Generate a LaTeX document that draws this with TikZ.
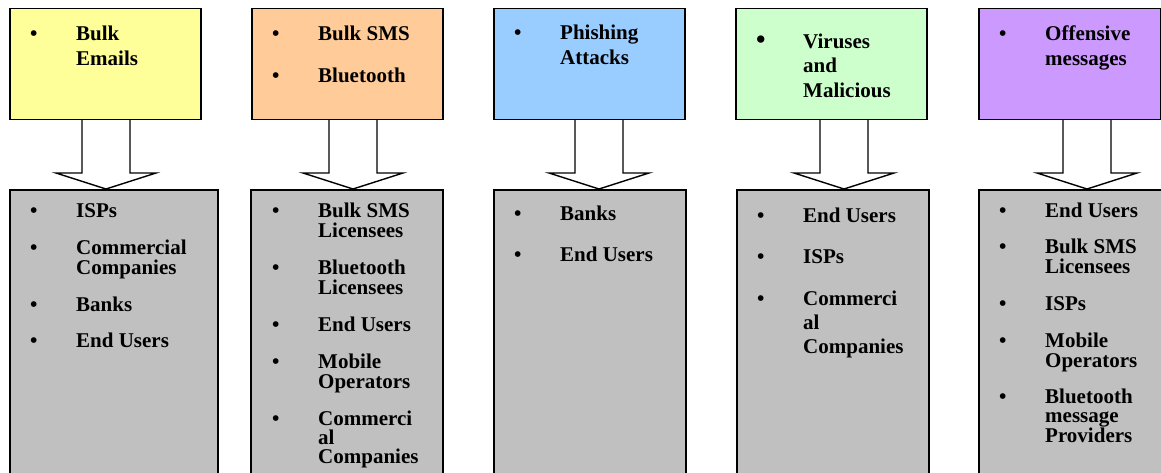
\documentclass[tikz,border=0pt]{standalone}
\usepackage{fontspec}
\setmainfont{Liberation Serif}
\usetikzlibrary{calc,backgrounds}

\definecolor{lemon}{HTML}{FFFF99}
\definecolor{peach}{HTML}{FFCC99}
\definecolor{sky}{HTML}{99CCFF}
\definecolor{mint}{HTML}{CCFFCC}
\definecolor{lilac}{HTML}{CC99FF}
\definecolor{boxgrey}{HTML}{C0C0C0}

% bullet followed by a hanging block of text
\newcommand{\itm}[1]{\makebox[46pt][l]{\textbullet}\parbox[t]{140pt}{#1}}

\begin{document}
\begin{tikzpicture}[x=1pt,y=-1pt,
	srcbox/.style={draw,line width=1.6pt,anchor=north west,inner sep=0pt,minimum width=191pt,minimum height=111pt},
	tgtbox/.style={draw,line width=1.6pt,anchor=north west,inner sep=0pt,fill=boxgrey,minimum width=192pt,minimum height=320pt},
	entry/.style={anchor=base west,inner sep=0pt,font=\bfseries\fontsize{21}{20}\selectfont},
	srcentry/.style={entry,font=\bfseries\fontsize{21}{25}\selectfont},
	blockarrow/.style={draw,fill=white,line width=1.4pt,line join=miter}]
	\clip (0,0) rectangle (1161,472);

	% Sources
	\node[srcbox,fill=lemon] (t1) at (9,7.5) {};
	\node[srcbox,fill=peach] (t2) at (251,7.5) {};
	\node[srcbox,fill=sky] (t3) at (493,7.5) {};
	\node[srcbox,fill=mint] (t4) at (735,7.5) {};
	\node[srcbox,fill=lilac,minimum width=182pt] (t5) at (978,7.5) {};

	\node[srcentry] (t1a) at (30,40) {\itm{Bulk\\Emails}};
	\node[srcentry] (t2a) at (272,40) {\itm{Bulk SMS}};
	\node[srcentry] (t2b) at (272,82) {\itm{Bluetooth}};
	\node[srcentry] (t3a) at (514,39) {\itm{Phishing\\Attacks}};
	\node[srcentry,font=\bfseries\fontsize{21}{24.5}\selectfont] (t4a) at (756,48)
		{\makebox[47pt][l]{\fontsize{27}{27}\selectfont\textbullet}\parbox[t]{140pt}{Viruses\\and\\Malicious}};
	\node[srcentry] (t5a) at (999,40) {\itm{Offensive\\messages}};

	% Targets
	\node[tgtbox,minimum width=208pt] (b1) at (9,189) {};
	\node[tgtbox] (b2) at (250,189) {};
	\node[tgtbox] (b3) at (493,189) {};
	\node[tgtbox] (b4) at (736,189) {};
	\node[tgtbox,minimum width=200pt] (b5) at (978,189) {};

	\node[entry] (b1a) at (30,217) {\itm{ISPs}};
	\node[entry] (b1b) at (30,254) {\itm{Commercial\\Companies}};
	\node[entry] (b1c) at (30,311) {\itm{Banks}};
	\node[entry] (b1d) at (30,347) {\itm{End Users}};

	\node[entry] (b2a) at (272,217) {\itm{Bulk SMS\\Licensees}};
	\node[entry] (b2b) at (272,274) {\itm{Bluetooth\\Licensees}};
	\node[entry] (b2c) at (272,331) {\itm{End Users}};
	\node[entry] (b2d) at (272,368) {\itm{Mobile\\Operators}};
	\node[entry,font=\bfseries\fontsize{21}{19}\selectfont] (b2e) at (272,425) {\itm{Commerci\\al\\Companies}};

	\node[entry] (b3a) at (514,220) {\itm{Banks}};
	\node[entry] (b3b) at (514,261) {\itm{End Users}};

	\node[entry] (b4a) at (757,222) {\itm{End Users}};
	\node[entry] (b4b) at (757,263) {\itm{ISPs}};
	\node[entry,font=\bfseries\fontsize{21}{24}\selectfont] (b4c) at (757,305) {\itm{Commerci\\al\\Companies}};

	\node[entry] (b5a) at (999,217) {\itm{End Users}};
	\node[entry] (b5b) at (999,253) {\itm{Bulk SMS\\Licensees}};
	\node[entry] (b5c) at (999,310) {\itm{ISPs}};
	\node[entry] (b5d) at (999,347) {\itm{Mobile\\Operators}};
	\node[entry,font=\bfseries\fontsize{21}{19.5}\selectfont] (b5e) at (999,403) {\itm{Bluetooth\\message\\Providers}};

	% Block arrows from each source to its target
	\begin{scope}[on background layer]
	\foreach \t/\b/\x in {t1/b1/106,t2/b2/353,t3/b3/599,t4/b4/844,t5/b5/1087}{
		\coordinate (ax) at (\x,0);
		\draw[blockarrow] ($(\t.south -| ax)+(-24,0)$) -- ($(\b.north -| ax)+(-24,-16)$)
			-- ($(\b.north -| ax)+(-50,-16)$) -- (\b.north -| ax) -- ($(\b.north -| ax)+(50,-16)$)
			-- ($(\b.north -| ax)+(24,-16)$) -- ($(\t.south -| ax)+(24,0)$);
	}
	\end{scope}
\end{tikzpicture}
\end{document}
